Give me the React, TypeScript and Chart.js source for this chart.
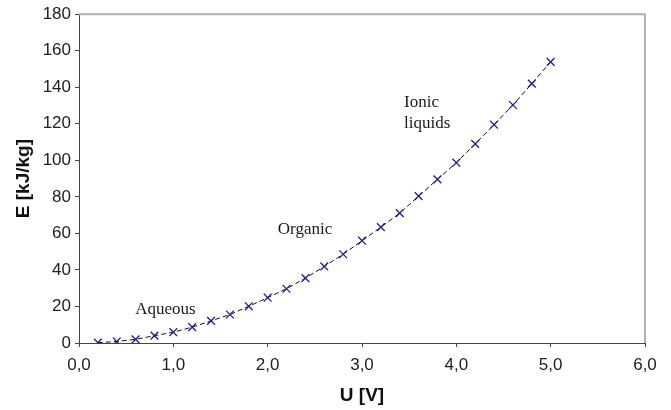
import React, { useEffect, useRef } from "react";
import { Chart, registerables } from "chart.js";

Chart.register(...registerables);

const voltages = [0.2, 0.4, 0.6, 0.8, 1.0, 1.2, 1.4, 1.6, 1.8, 2.0, 2.2, 2.4, 2.6, 2.8, 3.0, 3.2, 3.4, 3.6, 3.8, 4.0, 4.2, 4.4, 4.6, 4.8, 5.0];
const energies = [0.2, 0.8, 2.0, 4.0, 5.9, 8.7, 12.1, 15.6, 20.1, 24.8, 29.7, 35.5, 41.9, 48.6, 56.0, 63.4, 71.1, 80.4, 89.6, 98.7, 109.0, 119.5, 130.3, 142.0, 153.9];

const xTicks = [0, 1, 2, 3, 4, 5, 6];
const yTicks = [0, 20, 40, 60, 80, 100, 120, 140, 160, 180];

const labelTexts = ["Aqueous", "Organic", "Ionic", "liquids"];
const labelU = [0.595, 2.107, 3.446, 3.446];
const labelE = [18.3, 62.0, 131.6, 120.4];

const annotationPlugin = {
  id: "annotations",
  afterDatasetsDraw(chart: any) {
    const { ctx, chartArea, scales } = chart;
    ctx.save();
    ctx.strokeStyle = "#b0b0b0";
    ctx.lineWidth = 2;
    ctx.beginPath();
    ctx.moveTo(chartArea.left, chartArea.top);
    ctx.lineTo(chartArea.right, chartArea.top);
    ctx.lineTo(chartArea.right, chartArea.bottom);
    ctx.stroke();
    ctx.fillStyle = "#1a1a1a";
    ctx.font = '17px "Liberation Serif", "Times New Roman", serif';
    ctx.textAlign = "left";
    ctx.textBaseline = "middle";
    labelTexts.forEach((t, i) => {
      ctx.fillText(t, scales.x.getPixelForValue(labelU[i]), scales.y.getPixelForValue(labelE[i]));
    });
    ctx.restore();
  },
};

export default function App() {
  const ref = useRef<HTMLCanvasElement>(null);
  useEffect(() => {
    document.body.style.margin = "0";
    const canvas = ref.current;
    if (!canvas) return;
    const chart = new Chart(canvas, {
      type: "scatter",
      data: {
        datasets: [
          {
            data: voltages.map((u, i) => ({ x: u, y: energies[i] })),
            showLine: true,
            borderColor: "#111111",
            borderWidth: 1,
            borderDash: [5, 3],
            pointStyle: "crossRot",
            pointRadius: 5.5,
            pointBorderColor: "#1c1c9c",
            pointBorderWidth: 1.3,
            pointBackgroundColor: "#1c1c9c",
            tension: 0,
          },
        ],
      },
      options: {
        responsive: false,
        animation: false,
        layout: { padding: { top: 12, right: 26, left: 0, bottom: 0 } },
        plugins: { legend: { display: false }, tooltip: { enabled: false } },
        scales: {
          x: {
            type: "linear",
            min: 0,
            max: 6,
            afterFit: (s: any) => {
              s.height = 67;
            },
            afterBuildTicks: (s: any) => {
              s.ticks = xTicks.map((v) => ({ value: v }));
            },
            ticks: {
              callback: (v: any) => Number(v).toFixed(1).replace(".", ","),
              font: { family: '"Liberation Sans", Arial, sans-serif', size: 17 },
              color: "#222",
              padding: 8,
              maxRotation: 0,
            },
            grid: { drawOnChartArea: false, drawTicks: true, tickLength: 4, color: "#444" },
            border: { display: true, color: "#444", width: 1 },
            title: {
              display: true,
              text: "U [V]",
              font: { family: '"Liberation Sans", Arial, sans-serif', size: 19, weight: "bold" },
              color: "#111",
              padding: { top: 0, bottom: 3 },
            },
          },
          y: {
            type: "linear",
            min: 0,
            max: 180,
            afterFit: (s: any) => {
              s.width = 79;
            },
            afterBuildTicks: (s: any) => {
              s.ticks = yTicks.map((v) => ({ value: v }));
            },
            ticks: {
              font: { family: '"Liberation Sans", Arial, sans-serif', size: 17 },
              color: "#222",
              padding: 4,
            },
            grid: { drawOnChartArea: false, drawTicks: true, tickLength: 4, color: "#444" },
            border: { display: true, color: "#444", width: 1 },
            title: {
              display: true,
              text: "E [kJ/kg]",
              font: { family: '"Liberation Sans", Arial, sans-serif', size: 19, weight: "bold" },
              color: "#111",
              padding: { top: 12, bottom: 0 },
            },
          },
        },
      },
      plugins: [annotationPlugin],
    });
    return () => chart.destroy();
  }, []);
  return (
    <div style={{ width: 671, height: 410 }}>
      <canvas ref={ref} width={671} height={410} style={{ display: "block" }} />
    </div>
  );
}
